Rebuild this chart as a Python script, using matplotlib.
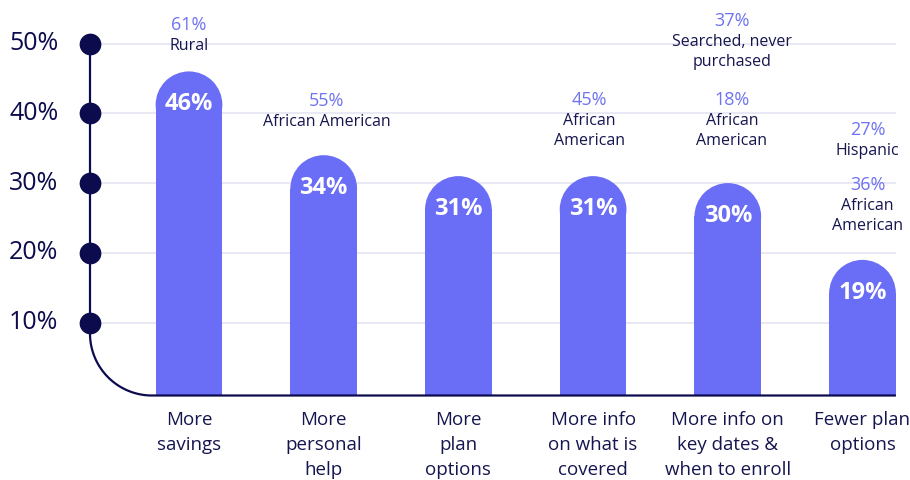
import numpy as np
import matplotlib
matplotlib.use("Agg")
import matplotlib.pyplot as plt
from matplotlib.patches import Ellipse
from matplotlib import transforms

plt.rcParams['font.family'] = ['Open Sans', 'DejaVu Sans']

# ---------------- data ----------------
categories = ["More\nsavings", "More\npersonal\nhelp", "More\nplan\noptions",
              "More info\non what is\ncovered", "More info on\nkey dates &\nwhen to enroll",
              "Fewer plan\noptions"]
values = [46, 34, 31, 31, 30, 19]
value_labels = ["46%", "34%", "31%", "31%", "30%", "19%"]
y_ticks = [10, 20, 30, 40, 50]
y_tick_labels = ["10%", "20%", "30%", "40%", "50%"]

# subgroup call-outs: (bar index, pct text, group text)
callout_bar = [0, 1, 3, 4, 4, 5, 5]
callout_pct = ["61%", "55%", "45%", "37%", "18%", "27%", "36%"]
callout_group = ["Rural", "African American", "African\nAmerican", "Searched, never\npurchased",
                 "African\nAmerican", "Hispanic", "African\nAmerican"]

# ---------------- layout / style ----------------
W, H, DPI = 910, 480, 100
x0_px, dx_px = 189, 134.7          # first bar centre, bar spacing (px)
zero_px, unit_px = 392.5, 6.98     # pixel row of 0%, px per 1%
callout_top_px = [25, 101, 100, 21, 100, 130, 185]
callout_dx_px = [0, 3, -4, 4, 4, 5, 5]

BAR = "#6a6df5"
NAVY = "#0c0b4d"
TEXT = "#15154f"
LIGHT = "#6f72f2"
GRID = "#e5e5f5"

fig = plt.figure(figsize=(W / DPI, H / DPI), dpi=DPI)
ax = fig.add_axes([0, 0, 1, 1])
ax.set_xlim(-x0_px / dx_px, (W - x0_px) / dx_px)
ax.set_ylim(-(H - zero_px) / unit_px, zero_px / unit_px)
ax.axis("off")

xpu = dx_px            # px per x unit
ypu = unit_px          # px per y unit
bw = 66.7 / xpu
ry = (bw / 2) * xpu / ypu
base = -3.0 / ypu
axis_x = (90 - x0_px) / xpu
x_end = len(values) - 1 + bw / 2

blend = transforms.blended_transform_factory(ax.transData, fig.transFigure)
def fy(py):
    return 1 - py / H

# gridlines
for t in y_ticks:
    ax.plot([axis_x, x_end], [t, t], color=GRID, lw=1.2, zorder=1, solid_capstyle="butt")

# bars with rounded tops
xs = np.arange(len(values))
for x, v, lab in zip(xs, values, value_labels):
    ax.bar(x, v - ry - base, bottom=base, width=bw, color=BAR, linewidth=0, zorder=2)
    ax.add_patch(Ellipse((x, v - ry), bw, 2 * ry, facecolor=BAR, edgecolor="none", zorder=2))
    ax.text(x, v - ry * 0.98, lab, ha="center", va="center", color="white",
            fontsize=17, fontweight="bold", zorder=4)

# axis path: vertical line, rounded corner, baseline
r_px = 62
rx, ryc = r_px / xpu, r_px / ypu
th = np.linspace(np.pi, 1.5 * np.pi, 60)
cx, cy = axis_x + rx, base + ryc
arc_x = cx + rx * np.cos(th)
arc_y = cy + ryc * np.sin(th)
px_ = np.concatenate([[axis_x], arc_x, [x_end]])
py_ = np.concatenate([[max(y_ticks)], arc_y, [base]])
ax.plot(px_, py_, color=NAVY, lw=1.6, zorder=3, solid_capstyle="butt")

# dots + tick labels
ax.scatter([axis_x] * len(y_ticks), y_ticks, s=245, color=NAVY, zorder=5, linewidths=0)
for t, lab in zip(y_ticks, y_tick_labels):
    ax.text(9 / W, t, lab, transform=transforms.blended_transform_factory(fig.transFigure, ax.transData),
            ha="left", va="center", fontsize=18, color=NAVY)

# category labels
for x, cat in zip(xs, categories):
    for k, line in enumerate(cat.split("\n")):
        ax.text(x, fy(420 + 25 * k), line, transform=blend, ha="center", va="center",
                fontsize=13.5, color=TEXT)

# call-outs
for b, pct, grp, top, dxp in zip(callout_bar, callout_pct, callout_group, callout_top_px, callout_dx_px):
    xx = b + dxp / xpu
    ax.text(xx, fy(top), pct, transform=blend, ha="center", va="center", fontsize=13, color=LIGHT)
    for k, line in enumerate(grp.split("\n")):
        ax.text(xx, fy(top + 21 + 20 * k), line, transform=blend, ha="center", va="center",
                fontsize=11.5, color=TEXT)

fig.savefig("out.png", dpi=DPI)
